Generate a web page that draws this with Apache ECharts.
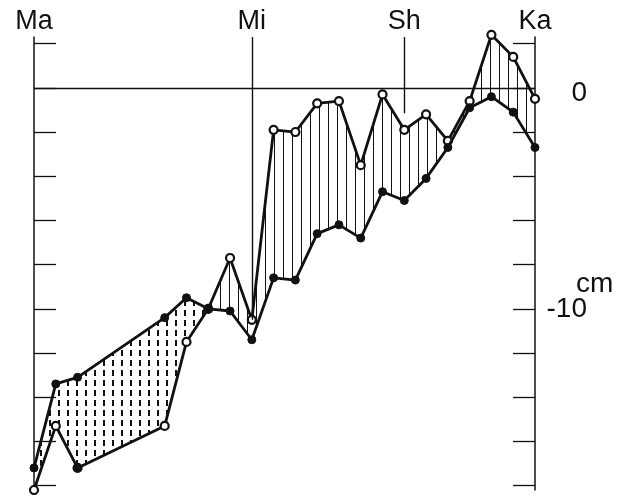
<!DOCTYPE html>
<html>
<head>
<meta charset="utf-8">
<script src="https://cdn.jsdelivr.net/npm/echarts@6/dist/echarts.min.js"></script>
<style>
  html, body { margin: 0; padding: 0; background: #fff; }
  #chart { width: 631px; height: 495px; }
</style>
</head>
<body>
<div id="chart"></div>
<script>
// station positions along the profile (x), and the two surveyed levels in cm
const xPos = [0, 1, 2, 6, 7, 8, 9, 10, 11, 12, 13, 14, 15, 16, 17, 18, 19, 20, 21, 22, 23];
const openVals = [-18.2, -15.3, -17.2, -15.3, -11.5, -10.0, -7.7, -10.5, -1.9, -2.0, -0.7, -0.6, -3.5, -0.3, -1.9, -1.2, -2.4, -0.6, 2.4, 1.4, -0.5];
const dotVals = [-17.2, -13.4, -13.1, -10.4, -9.5, -10.0, -10.1, -11.4, -8.6, -8.7, -6.6, -6.2, -6.8, -4.7, -5.1, -4.1, -2.7, -0.9, -0.4, -1.1, -2.7];
const openFilled = [2]; // point drawn filled on the open-circle line

// place names on top
const placeNames = ['Ma', 'Mi', 'Sh', 'Ka'];
const placePos = [0, 10, 17, 23];
const placeLineEnd = [null, -10.5, -1.15, null];

// y ticks
const yTicks = [-18, -16, -14, -12, -10, -8, -6, -4, -2, 0, 2];
const yLabels = [0, -10];

// hatch bands: [from index, to index, style]
const bands = [[0, 5, 'dash'], [5, 20, 'solid']];

const Y_MIN = -18.2, Y_MAX = 2.3;
const ink = '#111';
const FONT = '"Liberation Sans", Arial, sans-serif';

function makePattern(kind) {
  const c = document.createElement('canvas');
  c.width = 9; c.height = 10;
  const g = c.getContext('2d');
  g.fillStyle = ink;
  if (kind === 'solid') g.fillRect(4, 0, 1, 10);
  else g.fillRect(4, 0, 2, 6);
  return c;
}
const patterns = { solid: makePattern('solid'), dash: makePattern('dash') };

const chart = echarts.init(document.getElementById('chart'));

const markLines = [{ yAxis: 0 }];
placePos.forEach((p, i) => {
  if (placeLineEnd[i] !== null) {
    markLines.push([{ coord: [p, Y_MAX] }, { coord: [p, placeLineEnd[i]] }]);
  }
});

chart.setOption({
  animation: false,
  backgroundColor: '#fff',
  grid: { left: 34, right: 96, top: 37, bottom: 5 },
  xAxis: {
    type: 'value',
    position: 'top',
    min: 0,
    max: 23,
    axisLine: { show: false },
    axisTick: { show: false },
    splitLine: { show: false },
    axisLabel: {
      customValues: placePos,
      formatter: v => placeNames[placePos.indexOf(v)],
      color: ink,
      fontSize: 27,
      fontFamily: FONT,
      margin: 2
    }
  },
  yAxis: [
    {
      type: 'value',
      position: 'left',
      min: Y_MIN,
      max: Y_MAX,
      splitLine: { show: false },
      axisLine: { show: true, lineStyle: { color: ink, width: 1.5 } },
      axisTick: { show: true, inside: true, length: 22, customValues: yTicks, lineStyle: { color: ink, width: 1.3 } },
      axisLabel: { show: false }
    },
    {
      type: 'value',
      position: 'right',
      min: Y_MIN,
      max: Y_MAX,
      splitLine: { show: false },
      axisLine: { show: true, lineStyle: { color: ink, width: 1.5 } },
      axisTick: { show: true, inside: true, length: 22, customValues: yTicks, lineStyle: { color: ink, width: 1.3 } },
      axisLabel: {
        customValues: yLabels,
        formatter: v => (v === 0 ? '{zero|0}' : '{n|' + v + '}'),
        color: ink,
        fontSize: 28,
        fontFamily: FONT,
        align: 'right',
        margin: 52,
        rich: {
          zero: { fontSize: 28, fontFamily: FONT, color: ink, padding: [10, 0, 0, 0] },
          n: { fontSize: 28, fontFamily: FONT, color: ink }
        }
      }
    }
  ],
  graphic: [
    {
      type: 'text',
      x: 576,
      y: 284,
      style: { text: 'cm', font: '28px ' + FONT, fill: ink, verticalAlign: 'middle' }
    }
  ],
  series: [
    {
      type: 'custom',
      clip: false,
      silent: true,
      z: 1,
      data: bands.map((b, i) => [i, 0]),
      renderItem: (params, api) => {
        const b = bands[params.dataIndex];
        const pts = [];
        for (let i = b[0]; i <= b[1]; i++) pts.push(api.coord([xPos[i], openVals[i]]));
        for (let i = b[1]; i >= b[0]; i--) pts.push(api.coord([xPos[i], dotVals[i]]));
        return {
          type: 'polygon',
          shape: { points: pts },
          style: { fill: { image: patterns[b[2]], repeat: 'repeat' }, stroke: null }
        };
      }
    },
    {
      name: 'open',
      type: 'line',
      z: 3,
      clip: false,
      symbol: 'circle',
      symbolSize: 8,
      data: xPos.map((x, i) => openFilled.includes(i)
        ? { value: [x, openVals[i]], itemStyle: { color: ink } }
        : [x, openVals[i]]),
      lineStyle: { color: ink, width: 2.8 },
      itemStyle: { color: '#fff', borderColor: ink, borderWidth: 2.2 },
      markLine: {
        silent: true,
        symbol: 'none',
        label: { show: false },
        lineStyle: { color: ink, width: 1.4, type: 'solid' },
        data: markLines
      }
    },
    {
      name: 'dot',
      type: 'line',
      z: 4,
      clip: false,
      symbol: 'circle',
      symbolSize: 8,
      data: xPos.map((x, i) => [x, dotVals[i]]),
      lineStyle: { color: ink, width: 2.8 },
      itemStyle: { color: ink, borderColor: ink, borderWidth: 1 }
    }
  ]
});
</script>
</body>
</html>
